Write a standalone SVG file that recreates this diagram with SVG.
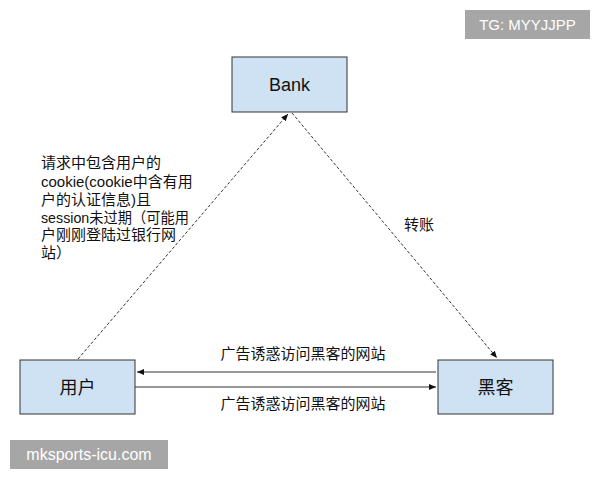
<svg xmlns="http://www.w3.org/2000/svg" width="600" height="480" viewBox="0 0 600 480">
<style>
.box{fill:#cfe2f3;stroke:#333;stroke-width:1}
.t{font-family:"Liberation Sans","Noto Sans CJK SC",sans-serif;fill:#111}
.lbl{font-size:15px}
.dash{stroke:#333;stroke-width:1;stroke-dasharray:3,2;fill:none}
.solid{stroke:#333;stroke-width:1;fill:none}
</style>
<defs>
<marker id="ah" markerWidth="8" markerHeight="8" refX="7" refY="4" orient="auto" markerUnits="userSpaceOnUse">
<path d="M0,1 L7,4 L0,7 Z" fill="#111"/>
</marker>
</defs>
<rect width="600" height="480" fill="#fff"/>
<g id="connectors">
<line class="dash" x1="78" y1="359" x2="288" y2="114" marker-end="url(#ah)"/>
<line class="dash" x1="292" y1="113" x2="497" y2="358" marker-end="url(#ah)"/>
<line class="solid" x1="436" y1="372" x2="137" y2="372" marker-end="url(#ah)"/>
<line class="solid" x1="135" y1="387" x2="436" y2="387" marker-end="url(#ah)"/>
<text class="t lbl" x="41" y="168">请求中包含用户的</text>
<text class="t lbl" x="41" y="187">cookie(cookie中含有用</text>
<text class="t lbl" x="41" y="205">户的认证信息)且</text>
<text class="t lbl" x="41" y="223" textLength="148" lengthAdjust="spacingAndGlyphs">session未过期（可能用</text>
<text class="t lbl" x="41" y="240">户刚刚登陆过银行网</text>
<text class="t lbl" x="41" y="258">站）</text>
<text class="t lbl" x="404" y="230">转账</text>
<text class="t lbl" x="303" y="359" text-anchor="middle">广告诱惑访问黑客的网站</text>
<text class="t lbl" x="303" y="409" text-anchor="middle">广告诱惑访问黑客的网站</text>
</g>
<g id="bank">
<rect class="box" x="232" y="57" width="115" height="55"/>
<text class="t" x="289.5" y="91" font-size="18" text-anchor="middle">Bank</text>
</g>
<g id="user">
<rect class="box" x="20" y="360" width="115" height="54"/>
<text class="t" x="77.5" y="394" font-size="18" text-anchor="middle">用户</text>
</g>
<g id="hacker">
<rect class="box" x="438" y="360" width="115" height="54"/>
<text class="t" x="495.5" y="394" font-size="18" text-anchor="middle">黑客</text>
</g>
<g id="watermarks">
<rect x="465" y="10" width="125" height="29" fill="#a6a6a6"/>
<text x="527.5" y="30" font-family="'Liberation Sans',sans-serif" font-size="15" fill="#fff" text-anchor="middle">TG: MYYJJPP</text>
<rect x="10" y="440" width="158" height="29" fill="#a6a6a6"/>
<text x="89" y="460" font-family="'Liberation Sans',sans-serif" font-size="16" fill="#fff" text-anchor="middle">mksports-icu.com</text>
</g>
</svg>
